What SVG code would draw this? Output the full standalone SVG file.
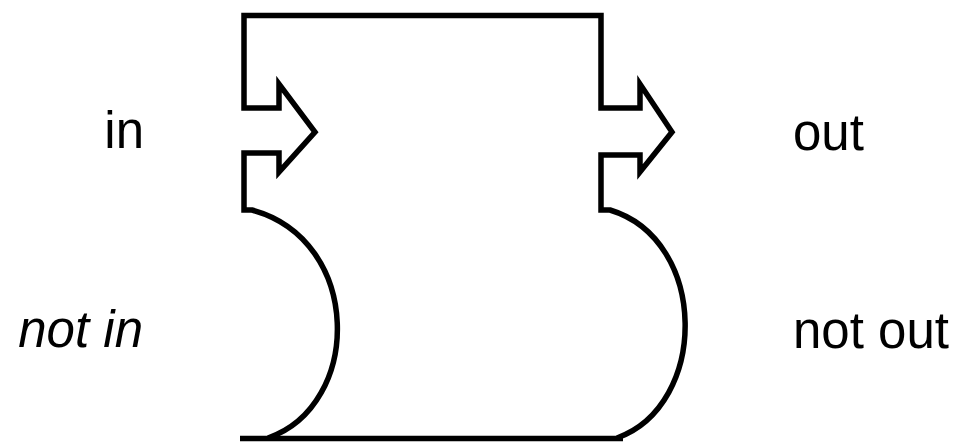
<svg xmlns="http://www.w3.org/2000/svg" width="959" height="443" viewBox="0 0 959 443">
<style>
.ln{fill:none;stroke:#000;stroke-width:5.5;stroke-linejoin:miter;stroke-miterlimit:10}
.lbl{font-family:"Liberation Sans",Arial,sans-serif;font-size:51px;fill:#000}
</style>
<rect width="959" height="443" fill="#fff"/>
<g id="gate">
<path class="ln" d="M 268 438 C 363 405 363 240 252 210 L 244 210 L 244 153 L 279 153 L 279 172 L 315 132 L 279 84 L 279 108 L 244 108 L 244 15.5 L 601 15.5 L 601 108 L 640 108 L 640 84 L 672 132 L 640 172 L 640 155 L 601 155 L 601 210 L 610 210 C 709 240 709 405 617 438"/>
<path class="ln" d="M 240 438.5 L 623 438.5"/>
</g>
<g id="connectors"></g>
<g id="label-in"><text class="lbl" x="144" y="148" text-anchor="end">in</text></g>
<g id="label-not-in"><text class="lbl" x="143" y="347" text-anchor="end" font-style="italic">not in</text></g>
<g id="label-out"><text class="lbl" x="793" y="150">out</text></g>
<g id="label-not-out"><text class="lbl" x="793" y="348">not out</text></g>
</svg>
